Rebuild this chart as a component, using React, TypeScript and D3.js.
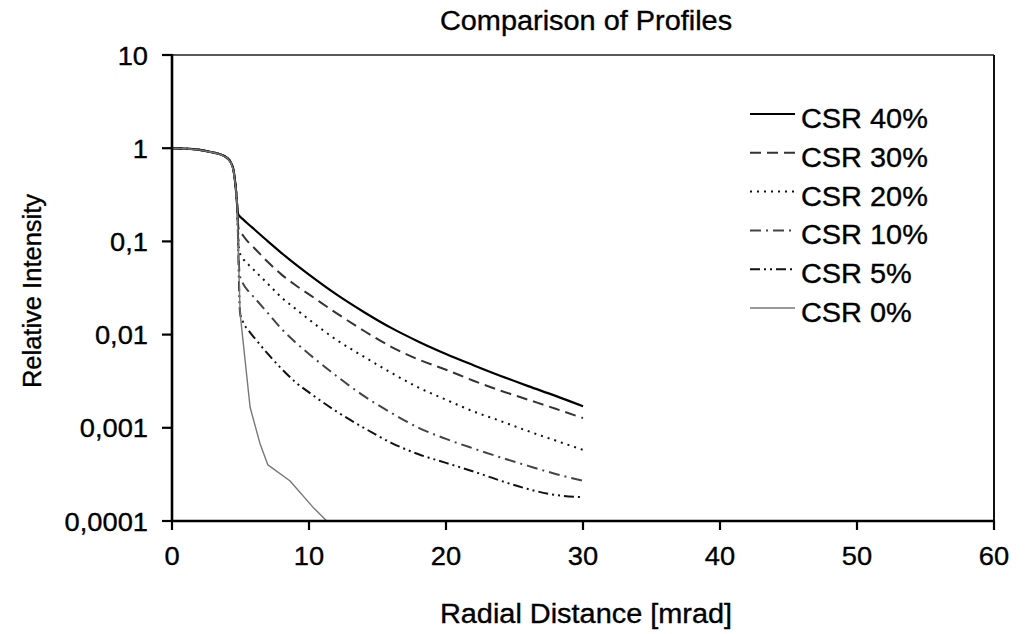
import React from "react";
import * as d3 from "d3";

// ---- data ----
const DISK_X = [0, 1, 2, 3, 3.5, 4, 4.3, 4.5, 4.65, 4.75];
const DISK_V = [1, 0.99, 0.96, 0.9, 0.86, 0.79, 0.7, 0.57, 0.38, 0.25];

const CSR40_X = [4.8, 5.2, 5.6, 6, 7, 8, 9, 10, 12, 14, 16, 18, 20, 22, 24, 26, 28, 30];
const CSR40_V = [0.2, 0.172, 0.152, 0.135, 0.1, 0.075, 0.057, 0.044, 0.027, 0.0175, 0.0118, 0.0084, 0.0062, 0.0047, 0.0036, 0.0028, 0.0022, 0.0017];

const CSR30_X = [4.85, 5.2, 5.6, 6, 7, 8, 9, 10, 12, 14, 16, 18, 20, 22, 24, 26, 28, 30];
const CSR30_V = [0.14, 0.115, 0.097, 0.085, 0.06, 0.044, 0.034, 0.027, 0.017, 0.011, 0.0074, 0.0054, 0.0042, 0.0032, 0.0025, 0.002, 0.0016, 0.00127];

const CSR20_X = [4.9, 5.2, 5.6, 6, 7, 8, 9, 10, 12, 14, 16, 18, 20, 22, 24, 26, 28, 30];
const CSR20_V = [0.08, 0.065, 0.056, 0.049, 0.035, 0.025, 0.019, 0.0145, 0.0088, 0.0058, 0.0039, 0.0027, 0.002, 0.0015, 0.00118, 0.00092, 0.00073, 0.00058];

const CSR10_X = [4.93, 5.2, 5.6, 6, 7, 8, 9, 10, 12, 14, 16, 18, 20, 22, 24, 26, 28, 30];
const CSR10_V = [0.045, 0.035, 0.029, 0.025, 0.017, 0.0115, 0.0083, 0.0062, 0.0036, 0.0022, 0.00145, 0.001, 0.00076, 0.0006, 0.00048, 0.00039, 0.00032, 0.00027];

const CSR5_X = [4.97, 5.2, 5.6, 6, 7, 8, 9, 10, 12, 14, 16, 18, 20, 22, 24, 26, 28, 30];
const CSR5_V = [0.017, 0.0135, 0.011, 0.0093, 0.0062, 0.0043, 0.0031, 0.0024, 0.0015, 0.001, 0.00069, 0.00052, 0.00042, 0.00034, 0.00027, 0.00022, 0.00019, 0.00018];

const CSR0_X = [4.97, 5.7, 6.42, 7.0, 8.6, 10.3, 11.3];
const CSR0_V = [0.017, 0.00166, 0.00068, 0.0004, 0.00027, 0.00014, 0.0001];

const SERIES_NAMES = ["CSR 40%", "CSR 30%", "CSR 20%", "CSR 10%", "CSR 5%", "CSR 0%"];
const X_TICKS = [0, 10, 20, 30, 40, 50, 60];
const Y_TICKS = [10, 1, 0.1, 0.01, 0.001, 0.0001];
const Y_TICK_LABELS = ["10", "1", "0,1", "0,01", "0,001", "0,0001"];

const TITLE = "Comparison of Profiles";
const X_LABEL = "Radial Distance [mrad]";
const Y_LABEL = "Relative Intensity";

// ---- styles ----
const STYLES = [
  { color: "#000", width: 2.2, dash: null, curve: d3.curveMonotoneX },
  { color: "#333", width: 2, dash: "11,6", curve: d3.curveMonotoneX },
  { color: "#111", width: 2, dash: "2,5", curve: d3.curveMonotoneX },
  { color: "#444", width: 2, dash: "11,5,2,5", curve: d3.curveMonotoneX },
  { color: "#111", width: 2, dash: "10,4,2,4,2,4", curve: d3.curveMonotoneX },
  { color: "#777", width: 1.4, dash: null, curve: d3.curveLinear },
];

const FONT = "'Liberation Sans', Arial, Helvetica, sans-serif";

const L = 172, R = 994, T = 55, B = 521;

function STxt({ x, y, size, anchor, children, rotate, sx }: any) {
  const tr = rotate
    ? `translate(${x},${y}) rotate(${rotate})`
    : `translate(${x},${y}) scale(${sx || 1.07},1)`;
  return (
    <text
      transform={tr}
      fontFamily={FONT}
      fontSize={size}
      textAnchor={anchor || "start"}
      fill="#000"
      stroke="#000"
      strokeWidth={0.35}
    >
      {children}
    </text>
  );
}

export default function App() {
  const x = d3.scaleLinear().domain([0, 60]).range([L, R]);
  const y = d3.scaleLog().domain([0.0001, 10]).range([B, T]);

  const raw: [number[], number[]][] = [
    [CSR40_X, CSR40_V],
    [CSR30_X, CSR30_V],
    [CSR20_X, CSR20_V],
    [CSR10_X, CSR10_V],
    [CSR5_X, CSR5_V],
    [CSR0_X, CSR0_V],
  ];
  const series = raw.map(([xs, vs]) => {
    const pts: [number, number][] = DISK_X.map((d, i) => [d, DISK_V[i]] as [number, number]);
    xs.forEach((d, i) => pts.push([d, vs[i]]));
    return pts;
  });

  const legendY0 = 114;
  const legendDY = 38.8;

  return (
    <svg width={1030} height={634} style={{ position: "absolute", left: 0, top: 0, background: "#fff" }}>
      <defs>
        <clipPath id="plot">
          <rect x={L} y={T} width={R - L} height={B - T} />
        </clipPath>
      </defs>
      <rect x={0} y={0} width={1030} height={634} fill="#fff" />

      {/* frame */}
      <line x1={L} x2={R} y1={T} y2={T} stroke="#222" strokeWidth={1.6} />
      <line x1={R} x2={R} y1={T} y2={B} stroke="#111" strokeWidth={2} />

      {/* series */}
      <g clipPath="url(#plot)">
        {series.map((pts, i) => {
          const st = STYLES[i];
          const line = d3
            .line<[number, number]>()
            .x((d) => x(d[0]))
            .y((d) => y(d[1]))
            .curve(st.curve);
          return (
            <path
              key={i}
              d={line(pts) || ""}
              fill="none"
              stroke={st.color}
              strokeWidth={st.width}
              strokeDasharray={st.dash || undefined}
              strokeLinejoin="round"
            />
          );
        })}
      </g>

      {/* axes */}
      <line x1={L} x2={L} y1={T - 1} y2={B + 1} stroke="#000" strokeWidth={2.6} />
      <line x1={L - 1} x2={R + 1} y1={B} y2={B} stroke="#000" strokeWidth={2.6} />
      {X_TICKS.map((t) => (
        <g key={"xt" + t}>
          <line x1={x(t)} x2={x(t)} y1={B} y2={B + 9} stroke="#000" strokeWidth={2.2} />
          <STxt x={x(t)} y={565} size={26} sx={1.05} anchor="middle">{String(t)}</STxt>
        </g>
      ))}
      {Y_TICKS.map((t, i) => (
        <g key={"yt" + i}>
          <line x1={L - 10} x2={L} y1={y(t)} y2={y(t)} stroke="#000" strokeWidth={2.2} />
          <STxt x={148} y={y(t) + 9.5} size={26} sx={1.05} anchor="end">{Y_TICK_LABELS[i]}</STxt>
        </g>
      ))}

      {/* titles */}
      <STxt x={586} y={30} size={27} anchor="middle">{TITLE}</STxt>
      <STxt x={586} y={623} size={27} anchor="middle">{X_LABEL}</STxt>
      <STxt x={41} y={291} size={25.5} anchor="middle" rotate={-90}>{Y_LABEL}</STxt>

      {/* legend */}
      {SERIES_NAMES.map((name, i) => {
        const st = STYLES[i];
        const ly = legendY0 + i * legendDY;
        return (
          <g key={"lg" + i}>
            <line
              x1={750}
              x2={795}
              y1={ly}
              y2={ly}
              stroke={st.color}
              strokeWidth={st.width}
              strokeDasharray={st.dash || undefined}
            />
            <STxt x={801} y={ly + 14} size={27}>{name}</STxt>
          </g>
        );
      })}
    </svg>
  );
}
